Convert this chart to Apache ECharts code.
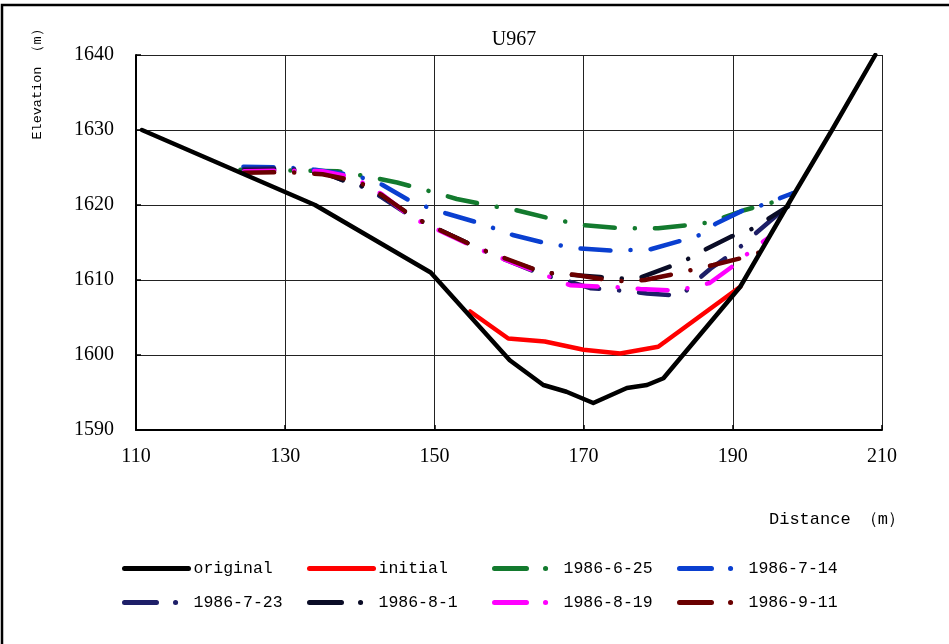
<!DOCTYPE html>
<html><head><meta charset="utf-8">
<script src="https://cdn.jsdelivr.net/npm/echarts@6/dist/echarts.min.js"></script>
<style>html,body{margin:0;padding:0;background:#fff}#c{width:949px;height:644px}</style>
</head><body><div id="c"></div>
<script>
var titleText = 'U967';
var xTicks = [110, 130, 150, 170, 190, 210];
var yTicks = [1590, 1600, 1610, 1620, 1630, 1640];
var seriesNames = ['original', 'initial', '1986-6-25', '1986-7-14', '1986-7-23', '1986-8-1', '1986-8-19', '1986-9-11'];
var seriesColors = ['#000000', '#ff0000', '#137a2e', '#0a3fd0', '#1e1f68', '#0a0c26', '#ff00ff', '#6a0000'];

var originalX = [110.8, 134, 149.5, 160.1, 164.6, 167.7, 171.3, 173.1, 175.8, 178.5, 180.7, 191, 198.3, 203.3, 209.1];
var originalY = [1630, 1620, 1611, 1599.3, 1596, 1595.1, 1593.6, 1594.4, 1595.6, 1596, 1596.9, 1609.1, 1621.6, 1630, 1640];

var initialX = [154.8, 159.9, 164.8, 170, 174.9, 180, 191];
var initialY = [1605.8, 1602.2, 1601.8, 1600.7, 1600.2, 1601.1, 1609.1];

var s0625X = [124, 130, 137, 141, 145, 149.5, 153, 157, 161, 165.5, 170, 175, 180, 184, 187, 191.5, 195.5, 198.2];
var s0625Y = [1624.7, 1624.6, 1624.5, 1623.8, 1623, 1621.8, 1620.8, 1620, 1619.3, 1618.2, 1617.3, 1616.9, 1616.9, 1617.3, 1617.7, 1619.3, 1620.4, 1621.6];

var s0714X = [124.4, 130, 134, 139, 141.5, 143, 147, 151.5, 156, 160.5, 165, 169.5, 174, 179, 183.3, 185.6, 187.7, 191.4, 194, 198.1];
var s0714Y = [1625.1, 1625, 1624.7, 1624, 1623.3, 1622.7, 1620.4, 1618.9, 1617.6, 1616, 1614.9, 1614.2, 1613.9, 1614.1, 1615.3, 1616, 1617.5, 1619.3, 1620, 1621.6];

var s0723X = [124.5, 130, 135, 138, 140, 143, 147, 150, 153, 156, 160, 164.5, 168, 171, 174, 178.5, 183.1, 185, 187, 190.3, 192.1, 194.1, 198.2];
var s0723Y = [1624.8, 1624.9, 1624.4, 1623.2, 1622.6, 1621, 1618.4, 1617, 1615.6, 1614.2, 1612.5, 1610.7, 1609.8, 1608.9, 1608.7, 1608.2, 1607.9, 1609.8, 1611.5, 1613.8, 1615.4, 1617.1, 1620.6];

var s0801X = [124.5, 130, 135, 138, 140, 143, 147, 150, 153, 156, 160, 164.5, 168.2, 172.2, 174.9, 177.3, 181.6, 183.8, 185.8, 189.8, 192.2, 197.4];
var s0801Y = [1624.6, 1624.7, 1624.3, 1623.2, 1622.7, 1621.2, 1618.5, 1617, 1615.6, 1614.2, 1612.6, 1611, 1610.7, 1610.4, 1610.2, 1610.2, 1611.8, 1612.7, 1613.8, 1615.8, 1616.6, 1619.8];

var s0819X = [124.5, 130, 135, 138, 140, 143, 147, 150, 153, 156, 160, 164.5, 168.2, 172.9, 175.3, 177.6, 182.3, 184.5, 186.9, 190.5, 192.3, 194.6];
var s0819Y = [1624.5, 1624.6, 1624.5, 1623.9, 1623.2, 1621.4, 1618.3, 1616.9, 1615.5, 1614.1, 1612.5, 1610.8, 1609.3, 1609.1, 1609, 1608.8, 1608.6, 1609, 1609.6, 1612.2, 1613.8, 1615.5];

var s0911X = [124.5, 130, 135, 138, 140, 143, 147, 150, 153, 156, 160, 164.5, 168.8, 173.3, 175.8, 178.2, 182.7, 185.1, 187.4, 191.9, 193.6];
var s0911Y = [1624.3, 1624.4, 1624.1, 1623.5, 1623, 1621.3, 1618.5, 1617, 1615.6, 1614.2, 1612.7, 1611, 1610.7, 1610, 1609.8, 1610, 1610.9, 1611.5, 1612, 1613.1, 1613.7];

function zip(xs, ys) { return xs.map(function (x, i) { return [x, ys[i]]; }); }
var seriesData = [
  zip(originalX, originalY), zip(initialX, initialY), zip(s0625X, s0625Y), zip(s0714X, s0714Y),
  zip(s0723X, s0723Y), zip(s0801X, s0801Y), zip(s0819X, s0819Y), zip(s0911X, s0911Y)
];

var chartDash = [30, 20, 0.1, 20];
var legendDash = [32, 19, 0.1, 40];

var series = seriesNames.map(function (name, i) {
  var dashed = i >= 2;
  return {
    name: name, type: 'line', data: seriesData[i], symbol: 'none', showSymbol: false,
    z: i === 0 ? 5 : 3,
    lineStyle: { color: seriesColors[i], width: dashed ? 4.5 : 4.5, type: dashed ? chartDash : 'solid', cap: 'round', join: 'round' },
    itemStyle: { color: seriesColors[i] },
    animation: false
  };
});

var legendCols = [122, 307, 492, 677];
var legendRows = [567, 601];
var legends = seriesNames.map(function (name, i) {
  var dashed = i >= 2;
  var item = {
    name: name,
    lineStyle: { width: 5, cap: 'round', type: dashed ? legendDash : 'solid' },
    itemStyle: { opacity: 0 }
  };
  return {
    show: true, data: [item], orient: 'horizontal', selectedMode: false,
    left: legendCols[i % 4], top: legendRows[Math.floor(i / 4)] - 7,
    padding: 0, itemWidth: 64, itemHeight: 14,
    textStyle: { fontFamily: 'Liberation Mono', fontSize: 16.5, color: '#000' }
  };
});

var chart = echarts.init(document.getElementById('c'), null, { renderer: 'canvas' });
chart.setOption({
  animation: false,
  backgroundColor: '#fff',
  title: { text: titleText, left: 509, top: 25, textAlign: 'center',
    textStyle: { fontFamily: 'Liberation Serif', fontSize: 20, fontWeight: 'normal', color: '#000' } },
  grid: { left: 136, right: 67, top: 55, bottom: 214, containLabel: false },
  xAxis: {
    type: 'value', min: xTicks[0], max: xTicks[xTicks.length - 1], interval: 20,
    axisLine: { show: true, onZero: false, lineStyle: { color: '#000', width: 2 } },
    axisTick: { show: true, inside: true, length: 5, lineStyle: { color: '#000', width: 1.5 } },
    axisLabel: { margin: 17, color: '#000', fontFamily: 'Liberation Serif', fontSize: 20, formatter: function (v) { return String(v); } },
    splitLine: { show: true, lineStyle: { color: '#222', width: 1 } }
  },
  yAxis: {
    type: 'value', min: yTicks[0], max: yTicks[yTicks.length - 1], interval: 10,
    axisLine: { show: true, onZero: false, lineStyle: { color: '#000', width: 2 } },
    axisTick: { show: true, inside: true, length: 5, lineStyle: { color: '#000', width: 1.5 } },
    axisLabel: { margin: 22, color: '#000', fontFamily: 'Liberation Serif', fontSize: 20, formatter: function (v) { return String(v); } },
    splitLine: { show: true, lineStyle: { color: '#222', width: 1 } }
  },
  legend: legends,
  graphic: [
    { type: 'rect', shape: { x: 2, y: 5, width: 1000, height: 700 }, style: { fill: 'none', stroke: '#000', lineWidth: 2.5 }, silent: true, z: 100 },
    { type: 'text', x: 37, y: 81, rotation: Math.PI / 2,
      style: { text: 'Elevation （m）', fontFamily: 'Liberation Mono', fontSize: 13.5, fill: '#000', align: 'center', verticalAlign: 'middle' } },
    { type: 'text', x: 905, y: 519,
      style: { text: 'Distance （m）', fontFamily: 'Liberation Mono', fontSize: 17, fill: '#000', align: 'right', verticalAlign: 'middle' } }
  ],
  series: series
});
</script></body></html>
